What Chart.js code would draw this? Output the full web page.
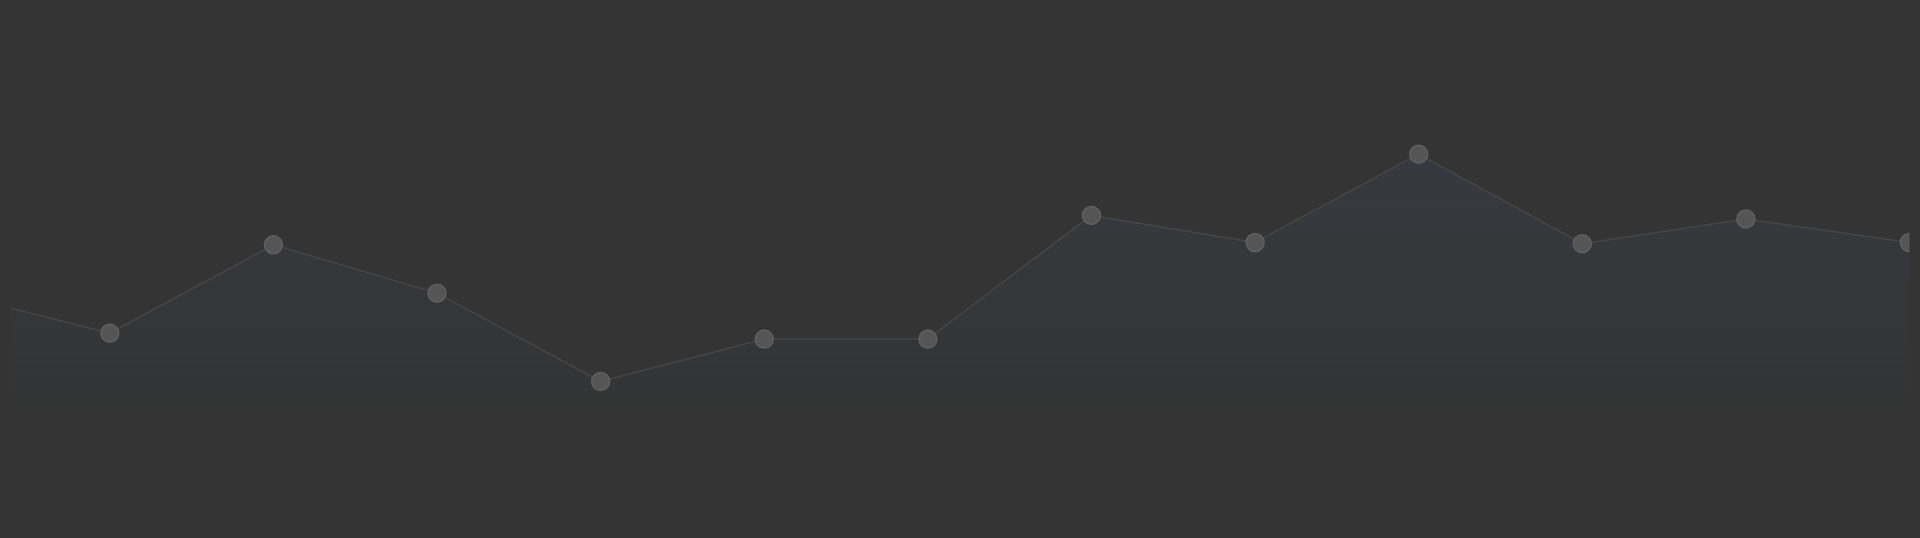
<!DOCTYPE html>
<html lang="en">
<head>
  <meta charset="UTF-8">
  <title>Line</title>
  <script src="https://cdn.jsdelivr.net/npm/chart.js"></script>
  <style>
    html, body { margin: 0; padding: 0; background: #343434; overflow: hidden; }
    #wrap { width: 1920px; height: 538px; }
  </style>
</head>
<body>
  <div id="wrap"><canvas id="chart"></canvas></div>
  <script>
    const positions = [0, 1, 2, 3, 4, 5, 6, 7, 8, 9, 10, 11, 12];
    const values = [200, 165, 240, 199, 124, 160, 160, 265, 242, 317, 241, 262, 242];

    const points = positions.map((p, i) => ({ x: p, y: values[i] }));

    new Chart(document.getElementById('chart'), {
      type: 'line',
      data: {
        datasets: [{
          data: points,
          borderColor: '#464646',
          borderWidth: 1.5,
          tension: 0,
          pointRadius: 9,
          pointBackgroundColor: '#555555',
          pointBorderColor: '#606060',
          pointBorderWidth: 1.5,
          fill: 'start',
          backgroundColor: ctx => {
            const area = ctx.chart.chartArea;
            if (!area) return 'rgba(0,0,0,0)';
            const g = ctx.chart.ctx.createLinearGradient(0, area.top, 0, area.bottom);
            g.addColorStop(0.25, 'rgba(55,60,68,0.85)');
            g.addColorStop(1, 'rgba(52,52,52,0)');
            return g;
          }
        }]
      },
      options: {
        responsive: true,
        maintainAspectRatio: false,
        animation: false,
        layout: { padding: { left: -11, right: -11, top: -11, bottom: -11 } },
        plugins: { legend: { display: false }, tooltip: { enabled: false } },
        scales: {
          x: { type: 'linear', min: 0.393, max: 12, display: false },
          y: { min: 0, max: 439, display: false }
        }
      }
    });
  </script>
</body>
</html>
